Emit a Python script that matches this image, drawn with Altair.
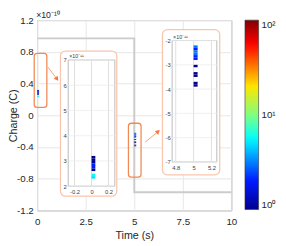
import altair as alt
import pandas as pd

# ---------------- data ----------------
# main axis ticks (time in s, charge in units of 1e-10 C)
x_ticks = [0, 2.5, 5, 7.5, 10]
y_ticks = [-1.2, -0.8, -0.4, 0, 0.4, 0.8, 1.2]

# reference square-wave charge (x1e-10 C)
wave_time = [0, 5, 5, 10]
wave_charge = [0.97, 0.97, -0.97, -0.97]

# 2-D histogram cells: time (s), lower bin edge of charge (x1e-11 C), count
cell_time = [0, 0, 0, 0, 0, 0, 0, 0,
             5, 5, 5, 5, 5, 5, 5, 5, 5, 5, 5]
cell_charge = [3.1, 3.0, 2.9, 2.8, 2.7, 2.6, 2.4, 2.3,
               -2.3, -2.4, -2.5, -2.6, -2.7, -2.8, -3.1, -3.4, -3.5, -3.8, -3.9]
cell_count = [1, 1, 1, 2, 2, 1, 6, 5,
              3, 2, 3, 3, 2, 2, 1, 1, 1, 1, 1]

# inset tick values
inset1_xticks = [-0.2, 0, 0.2]
inset1_yticks = [2, 3, 4, 5, 6, 7]
inset2_xticks = [4.8, 5, 5.2]
inset2_yticks = [-7, -6, -5, -4, -3, -2]

# colorbar
cbar_ticks = [1, 10, 100]

# axis exponent labels
main_exp = "×10⁻¹⁰"
inset_exp = "×10⁻¹¹"

# annotation frames (main-axis units)
small_box = {"x": [-0.15, 4.7], "x2": [0.5, 5.35], "y": [0.78, -0.1], "y2": [0.1, -0.78]}
inset_box = {"x": [1.2, 6.45], "x2": [4.1, 9.4], "y": [0.81, 1.08], "y2": [-1.02, -0.75]}
arrows = {"x": [0.55, 5.55], "y": [0.61, -0.34], "x2": [1.0, 6.2], "y2": [0.465, -0.21], "ang": [143, 50]}

# ---------------- styling ----------------
W, H = 200, 196
FONT = "Liberation Sans"
BIN_H = 0.1      # x1e-11 C
BIN_W = 0.045    # s (inset)
MAIN_W = 0.1     # s (main view)

jet_dom = [1, 1.778, 5.623, 17.78, 56.23, 100]
jet_rng = ["#00008f", "#0000ff", "#00ffff", "#ffff00", "#ff0000", "#800000"]
color = alt.Color(
    "count:Q",
    scale=alt.Scale(type="log", domain=jet_dom, range=jet_rng, interpolate="rgb"),
    legend=alt.Legend(
        title=None, orient="none", legendX=214, legendY=0, direction="vertical",
        gradientLength=195, gradientThickness=14, values=cbar_ticks,
        labelExpr="datum.value == 1 ? '10⁰' : datum.value == 10 ? '10¹' : '10²'",
        labelFontSize=10, labelColor="#262626", labelOffset=3, padding=0,
        gradientStrokeColor="#333333", gradientStrokeWidth=0.6, labelOverlap=False,
    ),
)

lab = "'' + datum.value"

cells = pd.DataFrame({"time": cell_time, "q": cell_charge, "count": cell_count})
wave = pd.DataFrame({"time": wave_time, "q": wave_charge, "i": list(range(len(wave_time)))})

# ---------------- main panel ----------------
mxs = alt.Scale(domain=[0, 10], nice=False, zero=False)
mys = alt.Scale(domain=[-1.2, 1.2], nice=False, zero=False)
max_ = alt.Axis(orient="bottom", values=x_ticks, labelExpr=lab, grid=True, gridColor="#e6e6e6",
                domain=False, ticks=False, tickSize=0, labelFontSize=10, labelColor="#262626",
                labelPadding=6, labelFlush=False, title="Time (s)", titleFontSize=11,
                titleFontWeight="normal", titleColor="#262626", titlePadding=4)
may = alt.Axis(orient="left", values=y_ticks, labelExpr=lab, grid=True, gridColor="#e6e6e6",
               domain=False, ticks=False, tickSize=0, labelFontSize=10, labelColor="#262626",
               labelPadding=4, labelFlush=False, title="Charge (C)", titleFontSize=11,
               titleFontWeight="normal", titleColor="#262626", titlePadding=-2)


def MX(f):
    return alt.X(f, type="quantitative", scale=mxs, axis=max_)


def MY(f):
    return alt.Y(f, type="quantitative", scale=mys, axis=may)


wave_line = alt.Chart(wave).mark_line(color="#cccccc", strokeWidth=2).encode(
    x=MX("time"), y=MY("q"), order="i:Q")

sb = pd.DataFrame(small_box)
small_boxes = alt.Chart(sb).mark_rect(
    fillOpacity=0, stroke="#f08a55", strokeWidth=1.3, cornerRadius=3).encode(
    x=MX("x"), x2="x2:Q", y=MY("y"), y2="y2:Q")

ib = pd.DataFrame(inset_box)
inset_boxes = alt.Chart(ib).mark_rect(
    fill="white", stroke="#f9c6ad", strokeWidth=1.3, cornerRadius=5).encode(
    x=MX("x"), x2="x2:Q", y=MY("y"), y2="y2:Q")

ar = pd.DataFrame(arrows)
arrow_lines = alt.Chart(ar).mark_rule(color="#f5a27a", strokeWidth=1).encode(
    x=MX("x"), x2="x2:Q", y=MY("y"), y2="y2:Q")
arrow_heads = alt.Chart(ar).mark_point(
    shape="triangle", filled=True, color="#f07a40", size=28, opacity=1).encode(
    x=MX("x2"), y=MY("y2"), angle=alt.Angle("ang:Q", scale=None))

main_cells = alt.Chart(cells).transform_calculate(
    qm="datum.q / 10", qm2="(datum.q + %s) / 10" % BIN_H, tm2="datum.time + %s" % MAIN_W
).mark_rect().encode(x=MX("time"), x2="tm2:Q", y=MY("qm"), y2="qm2:Q", color=color)

exp_df = pd.DataFrame({"x": [x_ticks[0]], "y": [y_ticks[-1]], "t": [main_exp]})
main_exp_text = alt.Chart(exp_df).mark_text(
    align="left", baseline="alphabetic", fontSize=9, dx=-1, dy=-2, color="#262626").encode(
    x=MX("x"), y=MY("y"), text="t:N")

main = alt.layer(wave_line, inset_boxes, small_boxes, arrow_lines, arrow_heads, main_cells,
                 main_exp_text)


# ---------------- insets ----------------
def inset(t0, xdom, xrng, ydom, yrng, xticks, yticks):
    xs = alt.Scale(domain=xdom, range=xrng, nice=False, zero=False)
    ys = alt.Scale(domain=ydom, range=yrng, nice=False, zero=False)
    xa = alt.Axis(orient="bottom", offset=yrng[0] - H, values=xticks, labelExpr=lab, grid=False,
                  domain=False, ticks=False, tickSize=0, labelFontSize=6, labelColor="#404040",
                  labelPadding=3, labelFlush=False, title=None, zindex=1)
    ya = alt.Axis(orient="left", offset=-xrng[0], values=yticks, labelExpr=lab, grid=False,
                  domain=False, ticks=False, tickSize=0, labelFontSize=6, labelColor="#404040",
                  labelPadding=2, labelFlush=False, title=None, zindex=1)

    def IX(f):
        return alt.X(f, type="quantitative", scale=xs, axis=xa)

    def IY(f):
        return alt.Y(f, type="quantitative", scale=ys, axis=ya)

    frame_df = pd.DataFrame({"x": [xdom[0]], "x2": [xdom[1]], "y": [ydom[0]], "y2": [ydom[1]],
                             "t": [inset_exp]})
    frame = alt.Chart(frame_df).mark_rect(fill="white", stroke="#a8a8a8", strokeWidth=0.8).encode(
        x=IX("x"), x2="x2:Q", y=IY("y"), y2="y2:Q")
    vg = alt.Chart(pd.DataFrame({"x": xticks, "y": ydom[0], "y2": ydom[1]})).mark_rule(
        color="#dedede", strokeWidth=1).encode(x=IX("x"), y=IY("y"), y2="y2:Q")
    hg = alt.Chart(pd.DataFrame({"y": yticks, "x": xdom[0], "x2": xdom[1]})).mark_rule(
        color="#ececec", strokeWidth=0.8).encode(x=IX("x"), x2="x2:Q", y=IY("y"))
    cl = alt.Chart(cells).transform_filter("datum.time == %s" % t0).transform_calculate(
        q2="datum.q + %s" % BIN_H, t2="datum.time + %s" % BIN_W
    ).mark_rect().encode(x=IX("time"), x2="t2:Q", y=IY("q"), y2="q2:Q", color=color)
    ex = alt.Chart(frame_df).mark_text(align="left", baseline="bottom", fontSize=5.5, dx=1, dy=-1,
                                       color="#404040").encode(x=IX("x"), y=IY("y2"), text="t:N")
    return alt.layer(frame, vg, hg, cl, ex)


inset1 = inset(0, [-0.275, 0.275], [32, 80], [2, 7], [171, 41], inset1_xticks, inset1_yticks)
inset2 = inset(5, [4.76, 5.26], [139, 185], [-7, -2], [146, 21], inset2_xticks, inset2_yticks)

chart = alt.layer(main, inset1, inset2).resolve_scale(
    x="independent", y="independent"
).properties(
    width=W, height=H,
    padding={"left": 30, "top": 9, "right": 48, "bottom": 31},
    autosize=alt.AutoSizeParams(type="none"),
).configure_view(stroke="#a0a0a0", strokeWidth=1).configure_axis(
    labelFont=FONT, titleFont=FONT
).configure_legend(labelFont=FONT).configure_text(font=FONT)

chart.save("out.html", embed_options={"renderer": "svg", "actions": False})
